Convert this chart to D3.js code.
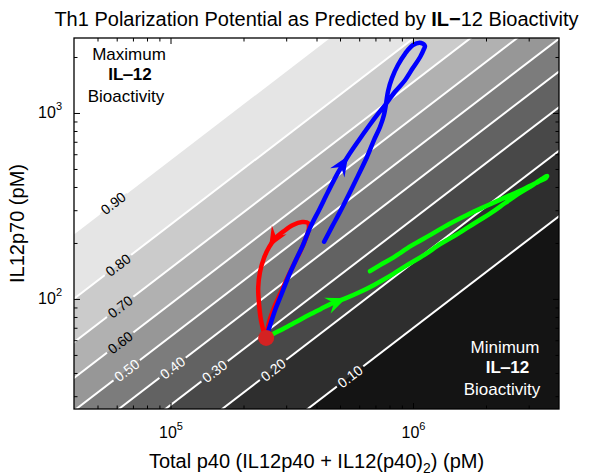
<!DOCTYPE html>
<html>
<head>
<meta charset="utf-8">
<script src="https://cdnjs.cloudflare.com/ajax/libs/d3/7.8.5/d3.min.js"></script>
<style>
  body { margin: 0; background: #fff; }
  svg { display: block; font-family: "Liberation Sans", Arial, Helvetica, sans-serif; }
</style>
</head>
<body>
<div id="vis"></div>
<script>
// axis ranges and ticks
const p40Range = [4.0e4, 4.0e6];
const p70Range = [25.6, 2530];
const xMajor = [1e5, 1e6];
const yMajor = [1e2, 1e3];

// bioactivity contours: B = r / (r + halfRatio), r = IL12p70 / total p40
const halfRatio = 6.27e-4;
const levels = [0.1, 0.2, 0.3, 0.4, 0.5, 0.6, 0.7, 0.8, 0.9];
const labelP40 = [5.5e5, 2.65e5, 1.52e5, 1.02e5, 6.6e4, 6.2e4, 6.2e4, 6.07e4, 5.8e4];
const bandColors = ['#141414', '#2e2e2e', '#484848', '#626262', '#7c7c7c',
  '#979797', '#b1b1b1', '#cbcbcb', '#e5e5e5', '#ffffff'];

// starting point of the trajectories
const startP40 = 2.48e5;
const startP70 = 61.7;

// red trajectory
const redP40 = [2.48e5, 2.55e5, 2.67e5, 2.83e5, 3.02e5, 3.23e5, 3.45e5, 3.62e5, 3.72e5, 3.69e5, 3.49e5,
  3.20e5, 2.94e5, 2.72e5, 2.55e5, 2.43e5, 2.34e5, 2.30e5, 2.32e5, 2.36e5, 2.43e5];
const redP70 = [61.7, 75.2, 89.4, 106, 128, 154, 183, 213, 238, 256, 259,
  250, 232, 213, 190, 166, 140, 115, 92.8, 77.1, 65.6];

// blue trajectory
const blueP40 = [2.48e5, 2.60e5, 2.72e5, 2.86e5, 3.05e5, 3.29e5, 3.52e5, 3.76e5, 4.10e5, 4.46e5,
  4.90e5, 5.40e5, 5.99e5, 6.58e5, 7.17e5, 7.74e5, 8.43e5, 9.27e5, 1.00e6, 1.07e6,
  1.11e6, 1.12e6, 1.08e6, 1.00e6, 9.27e5, 8.67e5, 8.19e5, 7.89e5, 7.74e5, 7.59e5,
  7.31e5, 6.91e5, 6.46e5, 5.93e5, 5.45e5, 5.00e5, 4.63e5, 4.30e5];
const blueP70 = [61.7, 75.2, 89.4, 105, 130, 162, 195, 241, 301, 376,
  476, 587, 716, 851, 988, 1120, 1300, 1500, 1750, 2000,
  2210, 2290, 2380, 2320, 2080, 1810, 1540, 1310, 1120, 975,
  841, 716, 580, 459, 367, 294, 244, 203];

// green trajectory
const greenP40 = [2.48e5, 2.65e5, 2.91e5, 3.29e5, 3.72e5, 4.17e5, 4.68e5, 5.29e5, 6.04e5, 6.91e5,
  8.04e5, 9.45e5, 1.11e6, 1.30e6, 1.53e6, 1.80e6, 2.10e6, 2.40e6, 2.76e6, 3.12e6,
  3.40e6, 3.57e6, 3.53e6, 3.28e6, 2.92e6, 2.58e6, 2.28e6, 1.96e6, 1.67e6, 1.41e6,
  1.18e6, 9.81e5, 8.35e5, 7.31e5, 6.65e5];
const greenP70 = [61.7, 64.8, 69.0, 75.2, 82.0, 88.4, 95.2, 101, 109, 119,
  133, 152, 172, 198, 224, 256, 290, 328, 372, 410,
  442, 459, 447, 426, 395, 367, 341, 312, 283, 253,
  221, 193, 168, 152, 141];

let margin = { top: 38, left: 74, right: 35, bottom: 67 },
  width = 594 - margin.left - margin.right,
  height = 476 - margin.top - margin.bottom;

let svg = d3.select('#vis')
  .append('svg')
  .attr('width', 594)
  .attr('height', 476);

let x = d3.scaleLog().domain(p40Range).range([0, width]);
let y = d3.scaleLog().domain(p70Range).range([height, 0]);

let defs = svg.append('defs');
defs.append('clipPath').attr('id', 'plotClip')
  .append('rect').attr('width', width).attr('height', height);

let mask = defs.append('mask').attr('id', 'labelGaps')
  .attr('maskUnits', 'userSpaceOnUse')
  .attr('x', -100).attr('y', -100)
  .attr('width', width + 200).attr('height', height + 200);
mask.append('rect')
  .attr('x', -100).attr('y', -100)
  .attr('width', width + 200).attr('height', height + 200)
  .attr('fill', '#fff');

let g = svg.append('g').attr('transform', `translate(${margin.left},${margin.top})`);
let plot = g.append('g').attr('clip-path', 'url(#plotClip)');

function ratioAt(b) { return halfRatio * b / (1 - b); }
let xs = [p40Range[0] / 10, p40Range[1] * 10];

// filled bands, darkest at the bottom
plot.append('rect').attr('width', width).attr('height', height).attr('fill', bandColors[0]);
levels.forEach((b, i) => {
  let r = ratioAt(b);
  let pts = [[x(xs[0]), y(r * xs[0])], [x(xs[1]), y(r * xs[1])], [x(xs[1]), -5000], [x(xs[0]), -5000]];
  plot.append('path')
    .attr('d', 'M' + pts.join('L') + 'Z')
    .attr('fill', bandColors[i + 1]);
});

// white contour lines, with gaps where the labels go
let contourLines = plot.append('g').attr('mask', 'url(#labelGaps)');
levels.forEach(b => {
  let r = ratioAt(b);
  contourLines.append('line')
    .attr('x1', x(xs[0])).attr('y1', y(r * xs[0]))
    .attr('x2', x(xs[1])).attr('y2', y(r * xs[1]))
    .attr('stroke', '#fff')
    .attr('stroke-width', 2);
});

// contour labels
let labelG = plot.append('g');
levels.forEach((b, i) => {
  let r = ratioAt(b), lx = labelP40[i];
  let px = x(lx), py = y(r * lx);
  let ang = Math.atan2(y(r * lx * 10) - py, x(lx * 10) - px) * 180 / Math.PI;
  let tr = `translate(${px},${py}) rotate(${ang})`;
  let t = labelG.append('text')
    .attr('transform', tr)
    .attr('text-anchor', 'middle')
    .attr('dy', '0.36em')
    .attr('font-size', 14)
    .attr('fill', b >= 0.6 ? '#000' : '#fff')
    .text(b.toFixed(2));
  let w = t.node().getComputedTextLength();
  mask.append('rect')
    .attr('transform', tr)
    .attr('x', -w / 2 - 3).attr('y', -7)
    .attr('width', w + 6).attr('height', 14)
    .attr('fill', '#000');
});

// trajectories
let trajectories = [
  { p40: redP40, p70: redP70, color: '#ff0000', arrowAt: 14 },
  { p40: blueP40, p70: blueP70, color: '#0000ff', arrowAt: 11 },
  { p40: greenP40, p70: greenP70, color: '#00ff00', arrowAt: 7 }
];

let line = d3.line()
  .x(d => x(d[0]))
  .y(d => y(d[1]))
  .curve(d3.curveCatmullRom.alpha(0.5));

function arrowHead(pts, i) {
  let p = pts[i], a = pts[i - 1], b = pts[i + 1];
  let dx = b[0] - a[0], dy = b[1] - a[1], len = Math.hypot(dx, dy);
  dx /= len; dy /= len;
  let L = 20, W = 8.5, N = 13, nx = -dy, ny = dx;
  return `M${p[0]},${p[1]}` +
    `L${p[0] - L * dx + W * nx},${p[1] - L * dy + W * ny}` +
    `L${p[0] - N * dx},${p[1] - N * dy}` +
    `L${p[0] - L * dx - W * nx},${p[1] - L * dy - W * ny}Z`;
}

trajectories.forEach(tj => {
  let data = tj.p40.map((v, i) => [v, tj.p70[i]]);
  plot.append('path')
    .attr('d', line(data))
    .attr('fill', 'none')
    .attr('stroke', tj.color)
    .attr('stroke-width', 4.5)
    .attr('stroke-linecap', 'round')
    .attr('stroke-linejoin', 'round');
  let pts = data.map(d => [x(d[0]), y(d[1])]);
  plot.append('path')
    .attr('d', arrowHead(pts, tj.arrowAt))
    .attr('fill', tj.color);
});

// start point
plot.append('circle')
  .attr('cx', x(startP40))
  .attr('cy', y(startP70))
  .attr('r', 8)
  .attr('fill', '#d42222');

// annotations
function note(lines, cx, ys, color) {
  lines.forEach((s, i) => {
    g.append('text')
      .attr('x', cx[i]).attr('y', ys[i])
      .attr('text-anchor', 'middle')
      .attr('font-size', 17)
      .attr('font-weight', i === 1 ? 'bold' : 'normal')
      .attr('fill', color)
      .text(s);
  });
}
note(['Maximum', 'IL\u201212', 'Bioactivity'], [55, 56, 52], [22, 42, 63.5], '#000');
note(['Minimum', 'IL\u201212', 'Bioactivity'], [431, 433.5, 428], [315, 335, 357], '#fff');

// axes with inward ticks on all four sides
function powerLabel(sel) {
  sel.each(function (d) {
    let t = d3.select(this);
    t.text(null);
    t.append('tspan').text('10');
    t.append('tspan').attr('dy', -8).attr('font-size', 11).text(Math.round(Math.log10(d)));
  });
}

let xMinor = x.ticks().filter(v => !xMajor.includes(v) && x(v) > 1 && x(v) < width - 1);
let yMinor = y.ticks().filter(v => !yMajor.includes(v) && y(v) > 1 && y(v) < height - 1);

function styleAxis(a) {
  a.select('.domain').remove();
  a.selectAll('line').attr('stroke', '#000');
  a.attr('font-family', null).attr('font-size', 16);
}

let xb = g.append('g').attr('transform', `translate(0,${height})`)
  .call(d3.axisBottom(x).tickValues(xMajor).tickSize(-6).tickSizeOuter(0));
styleAxis(xb);
xb.selectAll('text').attr('y', 29).attr('dy', null).attr('fill', '#000').call(powerLabel);
g.append('g').attr('transform', `translate(0,${height})`)
  .call(d3.axisBottom(x).tickValues(xMinor).tickSize(-3.5).tickFormat(''))
  .call(styleAxis);
g.append('g')
  .call(d3.axisTop(x).tickValues(xMajor).tickSize(-6).tickFormat(''))
  .call(styleAxis);
g.append('g')
  .call(d3.axisTop(x).tickValues(xMinor).tickSize(-3.5).tickFormat(''))
  .call(styleAxis);

let yl = g.append('g')
  .call(d3.axisLeft(y).tickValues(yMajor).tickSize(-6).tickSizeOuter(0));
styleAxis(yl);
yl.selectAll('text').attr('x', -12).attr('dy', null).attr('y', 5).attr('fill', '#000').call(powerLabel);
g.append('g')
  .call(d3.axisLeft(y).tickValues(yMinor).tickSize(-3.5).tickFormat(''))
  .call(styleAxis);
g.append('g').attr('transform', `translate(${width},0)`)
  .call(d3.axisRight(y).tickValues(yMajor).tickSize(-6).tickFormat(''))
  .call(styleAxis);
g.append('g').attr('transform', `translate(${width},0)`)
  .call(d3.axisRight(y).tickValues(yMinor).tickSize(-3.5).tickFormat(''))
  .call(styleAxis);

// box
g.append('rect')
  .attr('width', width).attr('height', height)
  .attr('fill', 'none')
  .attr('stroke', '#000')
  .attr('stroke-width', 1.3);

// title and axis titles
let title = svg.append('text')
  .attr('x', margin.left + width / 2).attr('y', 26)
  .attr('text-anchor', 'middle')
  .attr('font-size', 20);
title.append('tspan').text('Th1 Polarization Potential as Predicted by ');
title.append('tspan').attr('font-weight', 'bold').text('IL\u2212');
title.append('tspan').text('12 Bioactivity');

let xTitle = svg.append('text')
  .attr('x', margin.left + width / 2).attr('y', 468)
  .attr('text-anchor', 'middle')
  .attr('font-size', 20);
xTitle.append('tspan').text('Total p40 (IL12p40 + IL12(p40)');
xTitle.append('tspan').attr('dy', 5).attr('font-size', 14).text('2');
xTitle.append('tspan').attr('dy', -5).text(') (pM)');

svg.append('text')
  .attr('transform', `translate(24,${margin.top + height / 2}) rotate(-90)`)
  .attr('text-anchor', 'middle')
  .attr('font-size', 20)
  .text('IL12p70 (pM)');
</script>
</body>
</html>
